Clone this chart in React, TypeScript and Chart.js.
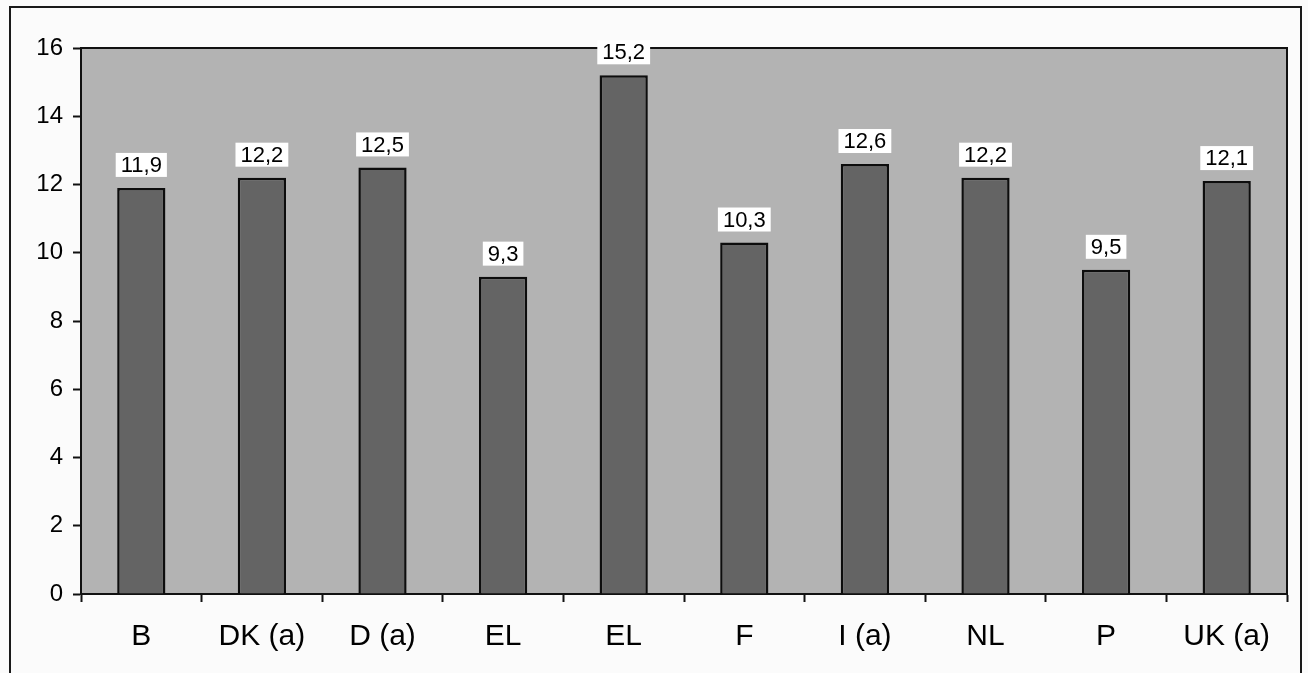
import React, { useEffect, useRef } from "react";
import { Chart, registerables } from "chart.js";

Chart.register(...registerables);

const categories = ["B", "DK (a)", "D (a)", "EL", "EL", "F", "I (a)", "NL", "P", "UK (a)"];
const values = [11.9, 12.2, 12.5, 9.3, 15.2, 10.3, 12.6, 12.2, 9.5, 12.1];
const yTicks = [0, 2, 4, 6, 8, 10, 12, 14, 16];

const FONT = "'Liberation Sans', Arial, sans-serif";

const formatValue = (v: number) => v.toFixed(1).replace(".", ",");

// Outer frame, plot-area fill, the top/right border of the plot box and value labels
const framePlugin = {
  id: "frame",
  beforeDraw(chart: any) {
    const { ctx, chartArea: a } = chart;
    ctx.save();
    ctx.fillStyle = "#fbfbfb";
    ctx.fillRect(0, 0, chart.width, chart.height);
    ctx.strokeStyle = "#1a1a1a";
    ctx.lineWidth = 2;
    ctx.strokeRect(10, 7, 1291, 700);
    ctx.fillStyle = "#b3b3b3";
    ctx.fillRect(a.left, a.top, a.right - a.left, a.bottom - a.top);
    ctx.restore();
  },
  afterDraw(chart: any) {
    const { ctx, chartArea: a } = chart;
    ctx.save();
    ctx.strokeStyle = "#111";
    ctx.lineWidth = 2;
    ctx.beginPath();
    ctx.moveTo(a.left, a.top);
    ctx.lineTo(a.right, a.top);
    ctx.lineTo(a.right, a.bottom);
    ctx.stroke();

    // value labels on white boxes above each bar
    const meta = chart.getDatasetMeta(0);
    ctx.font = `22px ${FONT}`;
    ctx.textAlign = "center";
    ctx.textBaseline = "middle";
    meta.data.forEach((bar: any, i: number) => {
      const text = formatValue(values[i]);
      const w = ctx.measureText(text).width + 10;
      const h = 24;
      const cy = bar.y - 23;
      ctx.fillStyle = "#ffffff";
      ctx.fillRect(bar.x - w / 2, cy - h / 2, w, h);
      ctx.fillStyle = "#000";
      ctx.fillText(text, bar.x, cy + 1);
    });
    ctx.restore();
  },
};

export default function App() {
  const canvasRef = useRef<HTMLCanvasElement>(null);

  useEffect(() => {
    if (!canvasRef.current) return;
    const chart = new Chart(canvasRef.current, {
      type: "bar",
      data: {
        labels: categories,
        datasets: [
          {
            data: values,
            backgroundColor: "#646464",
            borderColor: "#0d0d0d",
            borderWidth: 2.5,
            categoryPercentage: 1,
            barPercentage: 0.4,
          },
        ],
      },
      options: {
        responsive: false,
        animation: false,
        layout: { padding: { left: 0, right: 21, top: 48, bottom: 0 } },
        plugins: { legend: { display: false }, tooltip: { enabled: false } },
        scales: {
          x: {
            offset: true,
            grid: {
              offset: true,
              drawOnChartArea: false,
              drawTicks: true,
              tickLength: 8,
              tickWidth: 2,
              tickColor: "#111",
            },
            border: { display: true, color: "#111", width: 2 },
            ticks: {
              color: "#000",
              font: { family: FONT, size: 30 },
              padding: 17,
              maxRotation: 0,
              autoSkip: false,
            },
            afterFit(scale: any) {
              scale.height = 79;
            },
          },
          y: {
            min: 0,
            max: 16,
            afterBuildTicks(scale: any) {
              scale.ticks = yTicks.map((v) => ({ value: v }));
            },
            grid: {
              drawOnChartArea: false,
              drawTicks: true,
              tickLength: 8,
              tickWidth: 2,
              tickColor: "#111",
            },
            border: { display: true, color: "#111", width: 2 },
            ticks: {
              color: "#000",
              font: { family: FONT, size: 24 },
              padding: 10,
            },
            afterFit(scale: any) {
              scale.width = 81;
            },
          },
        },
      },
      plugins: [framePlugin],
    });
    return () => chart.destroy();
  }, []);

  return (
    <div style={{ position: "fixed", left: 0, top: 0, width: 1308, height: 673, background: "#fff" }}>
      <canvas ref={canvasRef} width={1308} height={673} style={{ display: "block" }} />
    </div>
  );
}
